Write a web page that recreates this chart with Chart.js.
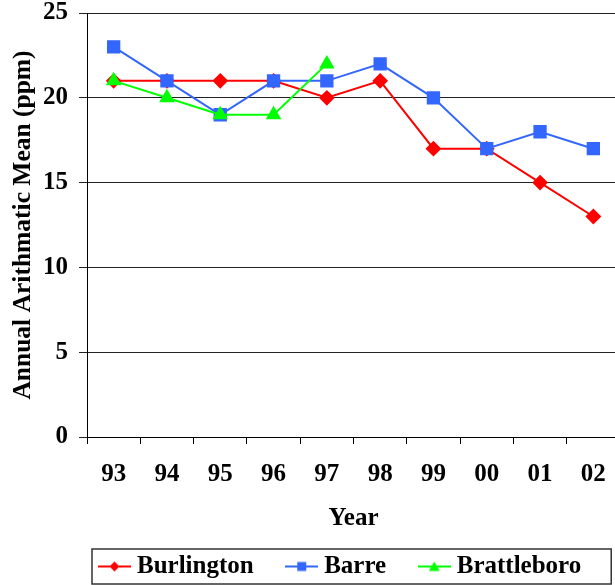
<!DOCTYPE html>
<html>
<head>
<meta charset="utf-8">
<script src="https://cdn.jsdelivr.net/npm/chart.js@4/dist/chart.umd.min.js"></script>
<style>
  html, body { margin: 0; padding: 0; background: #fff; }
  body { width: 615px; height: 585px; overflow: hidden; }
</style>
</head>
<body>
<canvas id="chart" width="620" height="600"></canvas>
<script>
// Chart data
const years = ['93', '94', '95', '96', '97', '98', '99', '00', '01', '02'];
const burlington = [21, 21, 21, 21, 20, 21, 17, 17, 15, 13];
const barre = [23, 21, 19, 21, 21, 22, 20, 17, 18, 17];
const brattleboro = [21, 20, 19, 19, 22, null, null, null, null, null];
const yMin = 0;
const yMax = 25;
const yStep = 5;

const RED = '#ff0000';
const BLUE = '#3366ff';
const GREEN = '#00ff00';
const FONT = '"Liberation Serif", "Times New Roman", serif';

Chart.defaults.font.family = FONT;
Chart.defaults.font.weight = 'bold';
Chart.defaults.color = '#000';

// small line + marker icons for the legend
function legendIcon(color, shape) {
  const c = document.createElement('canvas');
  c.width = 33;
  c.height = 14;
  const ctx = c.getContext('2d');
  ctx.strokeStyle = color;
  ctx.fillStyle = color;
  ctx.lineWidth = 2;
  ctx.beginPath();
  ctx.moveTo(0, 7);
  ctx.lineTo(33, 7);
  ctx.stroke();
  ctx.beginPath();
  if (shape === 'diamond') {
    ctx.moveTo(16.5, 2); ctx.lineTo(21.5, 7); ctx.lineTo(16.5, 12); ctx.lineTo(11.5, 7);
  } else if (shape === 'square') {
    ctx.rect(12, 2.5, 9, 9);
  } else {
    ctx.moveTo(16.5, 2); ctx.lineTo(22, 11.5); ctx.lineTo(11, 11.5);
  }
  ctx.closePath();
  ctx.fill();
  return c;
}
const icons = [legendIcon(RED, 'diamond'), legendIcon(BLUE, 'square'), legendIcon(GREEN, 'triangle')];

// legend frame + legend placement
const legendFrame = {
  id: 'legendFrame',
  afterLayout(chart) {
    const lg = chart.legend;
    lg.left = 66.5;
    lg.top -= 11;
    lg.bottom -= 11;
  },
  afterDraw(chart) {
    const boxes = chart.legend.legendHitBoxes;
    if (!boxes || !boxes.length) return;
    const first = boxes[0];
    const last = boxes[boxes.length - 1];
    const cy = first.top + first.height / 2;
    const ctx = chart.ctx;
    ctx.save();
    ctx.strokeStyle = '#333';
    ctx.lineWidth = 1.5;
    ctx.strokeRect(first.left - 12.5, cy - 17.5, last.left + last.width + 30 - (first.left - 12.5), 35);
    ctx.restore();
  }
};

new Chart(document.getElementById('chart'), {
  type: 'line',
  data: {
    labels: years,
    datasets: [
      {
        label: 'Burlington',
        data: burlington,
        borderColor: RED,
        backgroundColor: RED,
        borderWidth: 2,
        pointStyle: 'rectRot',
        pointRadius: 6.5,
        order: 3
      },
      {
        label: 'Barre',
        data: barre,
        borderColor: BLUE,
        backgroundColor: BLUE,
        borderWidth: 2,
        pointStyle: 'rect',
        pointRadius: 8,
        order: 2
      },
      {
        label: 'Brattleboro',
        data: brattleboro,
        borderColor: GREEN,
        backgroundColor: GREEN,
        borderWidth: 2,
        pointStyle: 'triangle',
        pointRadius: 7,
        order: 1
      }
    ]
  },
  options: {
    responsive: false,
    animation: false,
    layout: { autoPadding: false, padding: { top: 13, left: 0, right: 0, bottom: 0 } },
    elements: { line: { tension: 0 } },
    scales: {
      x: {
        offset: true,
        afterFit: (scale) => {
          scale.height = 90;
          scale.paddingLeft = 0;
          scale.paddingRight = 0;
        },
        grid: {
          offset: true,
          drawOnChartArea: false,
          drawTicks: true,
          tickLength: 7,
          color: '#000'
        },
        border: { display: true, color: '#000', width: 1 },
        ticks: {
          font: { size: 25, weight: 'bold', lineHeight: 1 },
          padding: 18,
          maxRotation: 0
        },
        title: {
          display: true,
          text: 'Year',
          font: { size: 25, weight: 'bold' },
          padding: { top: 4, bottom: -7 }
        }
      },
      y: {
        min: yMin,
        max: yMax,
        afterFit: (scale) => {
          scale.width = 87;
          scale.paddingTop = 0;
          scale.paddingBottom = 0;
        },
        grid: {
          color: '#222',
          tickLength: 8,
          drawTicks: true
        },
        border: { display: true, color: '#000', width: 1 },
        ticks: {
          stepSize: yStep,
          font: { size: 25, weight: 'bold', lineHeight: 1 },
          padding: 11
        },
        title: {
          display: true,
          text: 'Annual Arithmatic Mean (ppm)',
          font: { size: 25.5, weight: 'bold' },
          padding: { top: 8, bottom: 4 }
        }
      }
    },
    plugins: {
      tooltip: { enabled: false },
      legend: {
        position: 'bottom',
        align: 'start',
        labels: {
          usePointStyle: true,
          pointStyleWidth: 20,
          padding: 38,
          font: { size: 25, weight: 'bold' },
          color: '#000',
          sort: (a, b) => a.datasetIndex - b.datasetIndex,
          generateLabels: (chart) => {
            const items = Chart.defaults.plugins.legend.labels.generateLabels(chart);
            items.forEach(item => { item.pointStyle = icons[item.datasetIndex]; });
            return items;
          }
        }
      }
    }
  },
  plugins: [legendFrame]
});
</script>
</body>
</html>
